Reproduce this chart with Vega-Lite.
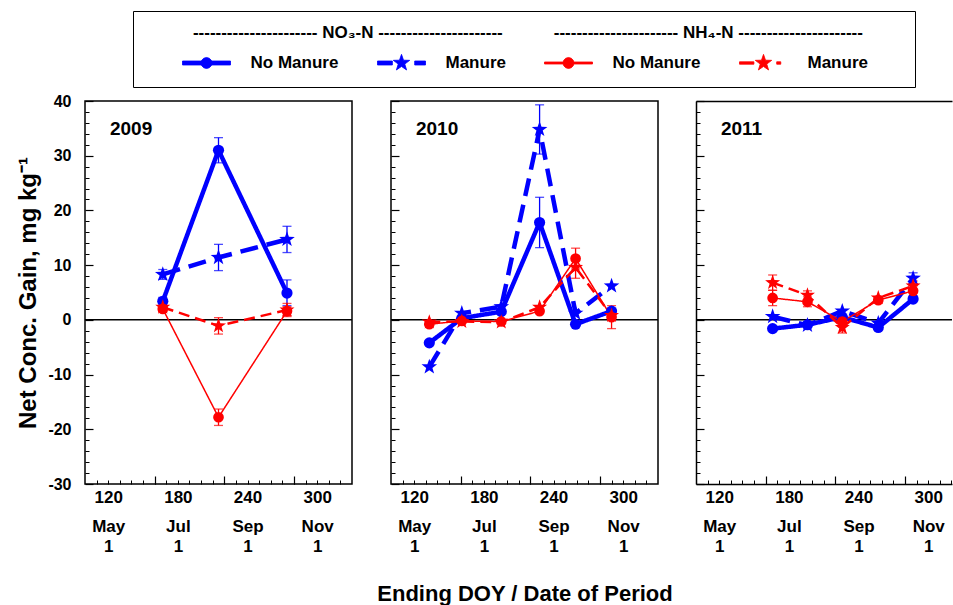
{
  "$schema": "https://vega.github.io/schema/vega-lite/v6.json",
  "background": "white",
  "padding": {"left": 16, "top": 10, "right": 0, "bottom": 0},
  "autosize": {"type": "pad"},
  "spacing": 21,
  "config": {
    "font": "Liberation Sans",
    "view": {"stroke": "black", "strokeWidth": 1.5},
    "axis": {"grid": false, "minExtent": 0, "tickColor": "black", "domainColor": "black", "labelColor": "black", "titleColor": "black", "labelFont": "Liberation Sans", "titleFont": "Liberation Sans"},
    "axisY": {"minExtent": 0},
    "axisX": {"minExtent": 0}
  },
  "datasets": {
    "d": [
      {"year": 2009, "s": "NO3 No Manure", "doy": 167, "v": 3.4, "lo": 2.7, "hi": 4.1},
      {"year": 2009, "s": "NO3 No Manure", "doy": 215, "v": 31.0, "lo": 28.7, "hi": 33.3},
      {"year": 2009, "s": "NO3 No Manure", "doy": 274, "v": 4.9, "lo": 2.6, "hi": 7.3},
      {"year": 2009, "s": "NO3 Manure", "doy": 167, "v": 8.3, "lo": 7.4, "hi": 9.2},
      {"year": 2009, "s": "NO3 Manure", "doy": 215, "v": 11.4, "lo": 9.0, "hi": 13.8},
      {"year": 2009, "s": "NO3 Manure", "doy": 274, "v": 14.7, "lo": 12.3, "hi": 17.1},
      {"year": 2009, "s": "NH4 No Manure", "doy": 167, "v": 2.0, "lo": 1.5, "hi": 2.5},
      {"year": 2009, "s": "NH4 No Manure", "doy": 215, "v": -17.8, "lo": -19.3, "hi": -16.3},
      {"year": 2009, "s": "NH4 No Manure", "doy": 274, "v": 1.6, "lo": 0.8, "hi": 2.4},
      {"year": 2009, "s": "NH4 Manure", "doy": 167, "v": 2.3, "lo": 1.5, "hi": 3.1},
      {"year": 2009, "s": "NH4 Manure", "doy": 215, "v": -1.1, "lo": -2.6, "hi": 0.4},
      {"year": 2009, "s": "NH4 Manure", "doy": 274, "v": 1.8, "lo": 0.6, "hi": 3.0},
      {"year": 2010, "s": "NO3 No Manure", "doy": 133, "v": -4.2},
      {"year": 2010, "s": "NO3 No Manure", "doy": 161, "v": 0.3},
      {"year": 2010, "s": "NO3 No Manure", "doy": 195, "v": 1.5},
      {"year": 2010, "s": "NO3 No Manure", "doy": 228, "v": 17.8, "lo": 13.2, "hi": 22.4},
      {"year": 2010, "s": "NO3 No Manure", "doy": 259, "v": -0.8},
      {"year": 2010, "s": "NO3 No Manure", "doy": 290, "v": 1.6},
      {"year": 2010, "s": "NO3 Manure", "doy": 133, "v": -8.6},
      {"year": 2010, "s": "NO3 Manure", "doy": 161, "v": 1.2},
      {"year": 2010, "s": "NO3 Manure", "doy": 195, "v": 2.4},
      {"year": 2010, "s": "NO3 Manure", "doy": 228, "v": 34.8, "lo": 30.3, "hi": 39.3},
      {"year": 2010, "s": "NO3 Manure", "doy": 259, "v": 1.2},
      {"year": 2010, "s": "NO3 Manure", "doy": 290, "v": 6.2},
      {"year": 2010, "s": "NH4 No Manure", "doy": 133, "v": -0.8},
      {"year": 2010, "s": "NH4 No Manure", "doy": 161, "v": -0.2},
      {"year": 2010, "s": "NH4 No Manure", "doy": 195, "v": -0.3},
      {"year": 2010, "s": "NH4 No Manure", "doy": 228, "v": 1.6},
      {"year": 2010, "s": "NH4 No Manure", "doy": 259, "v": 11.2, "lo": 9.3, "hi": 13.1},
      {"year": 2010, "s": "NH4 No Manure", "doy": 290, "v": 0.5, "lo": -1.6, "hi": 2.6},
      {"year": 2010, "s": "NH4 Manure", "doy": 133, "v": -0.4},
      {"year": 2010, "s": "NH4 Manure", "doy": 161, "v": -0.3},
      {"year": 2010, "s": "NH4 Manure", "doy": 195, "v": -0.4},
      {"year": 2010, "s": "NH4 Manure", "doy": 228, "v": 2.3},
      {"year": 2010, "s": "NH4 Manure", "doy": 259, "v": 9.6, "lo": 7.6, "hi": 11.6},
      {"year": 2010, "s": "NH4 Manure", "doy": 290, "v": 0.8},
      {"year": 2011, "s": "NO3 No Manure", "doy": 166, "v": -1.6},
      {"year": 2011, "s": "NO3 No Manure", "doy": 196, "v": -0.9},
      {"year": 2011, "s": "NO3 No Manure", "doy": 226, "v": 0.5},
      {"year": 2011, "s": "NO3 No Manure", "doy": 257, "v": -1.4},
      {"year": 2011, "s": "NO3 No Manure", "doy": 287, "v": 3.8},
      {"year": 2011, "s": "NO3 Manure", "doy": 166, "v": 0.6},
      {"year": 2011, "s": "NO3 Manure", "doy": 196, "v": -1.0},
      {"year": 2011, "s": "NO3 Manure", "doy": 226, "v": 1.6},
      {"year": 2011, "s": "NO3 Manure", "doy": 257, "v": -0.6},
      {"year": 2011, "s": "NO3 Manure", "doy": 287, "v": 7.6, "lo": 6.6, "hi": 8.6},
      {"year": 2011, "s": "NH4 No Manure", "doy": 166, "v": 4.0, "lo": 2.6, "hi": 5.4},
      {"year": 2011, "s": "NH4 No Manure", "doy": 196, "v": 3.3, "lo": 2.4, "hi": 4.2},
      {"year": 2011, "s": "NH4 No Manure", "doy": 226, "v": -0.3},
      {"year": 2011, "s": "NH4 No Manure", "doy": 257, "v": 3.6},
      {"year": 2011, "s": "NH4 No Manure", "doy": 287, "v": 5.3, "lo": 4.4, "hi": 6.2},
      {"year": 2011, "s": "NH4 Manure", "doy": 166, "v": 6.8, "lo": 5.4, "hi": 8.2},
      {"year": 2011, "s": "NH4 Manure", "doy": 196, "v": 4.5, "lo": 3.7, "hi": 5.3},
      {"year": 2011, "s": "NH4 Manure", "doy": 226, "v": -1.4, "lo": -2.4, "hi": -0.4},
      {"year": 2011, "s": "NH4 Manure", "doy": 257, "v": 4.0},
      {"year": 2011, "s": "NH4 Manure", "doy": 287, "v": 6.2, "lo": 5.3, "hi": 7.1}
    ]
  },
  "hconcat": [
    {
      "width": 267, "height": 383,
      "layer": [
        {
          "data": {"values": [{}]},
          "mark": {"type": "rule", "color": "black", "strokeWidth": 1.5},
          "encoding": {"y": {"datum": 0, "type": "quantitative", "scale": {"domain": [-30, 40], "nice": false, "zero": false}, "axis": {"orient": "left", "values": [-30, -20, -10, 0, 10, 20, 30, 40], "tickSize": -8, "tickWidth": 1.2, "labels": false, "domain": false, "title": null}}}
        },
        {
          "data": {"name": "d"},
          "transform": [{"filter": "datum.year == 2009 && isValid(datum.lo)"}],
          "mark": {"type": "rule", "strokeWidth": 1.3},
          "encoding": {
            "x": {"field": "doy", "type": "quantitative", "scale": {"domain": [100, 330], "nice": false, "zero": false}, "axis": {"orient": "bottom", "values": [110, 120, 130, 140, 150, 160, 170, 180, 190, 200, 210, 220, 230, 240, 250, 260, 270, 280, 290, 300, 310, 320], "tickSize": -4, "tickWidth": 1, "labels": false, "domain": false, "title": null}},
            "y": {"field": "lo", "type": "quantitative", "scale": {"domain": [-30, 40], "nice": false, "zero": false}, "axis": {"orient": "left", "values": [-28, -26, -24, -22, -18, -16, -14, -12, -8, -6, -4, -2, 2, 4, 6, 8, 12, 14, 16, 18, 22, 24, 26, 28, 32, 34, 36, 38], "tickSize": -4, "tickWidth": 1, "labels": false, "domain": false, "title": null}},
            "y2": {"field": "hi"},
            "color": {"field": "s", "type": "nominal", "scale": {"domain": ["NO3 No Manure", "NO3 Manure", "NH4 No Manure", "NH4 Manure"], "range": ["#0000ff", "#0000ff", "#ff0000", "#ff0000"]},
              "legend": {
                "orient": "none", "legendX": 48, "legendY": -90,
                "direction": "horizontal", "columns": 4,
                "title": "\u200B\u2003\u2003\u2002\u2009---------------------- NO\u2083-N ----------------------\u2003\u2003\u2003---------------------- NH\u2084-N ----------------------\u2003\u2003\u2009\u200B",
                "titleFontSize": 17, "titleFontWeight": "bold", "titleLimit": 2000, "titlePadding": 11, "titleAnchor": "start", "titleColor": "black",
                "labelFontSize": 17, "labelFontWeight": "bold", "labelColor": "black", "labelExpr": "slice(datum.label, 4)", "labelLimit": 300, "labelOffset": 19.5,
                "symbolSize": 2304, "symbolStrokeWidth": 0.8, "symbolOffset": 35, "symbolType": "circle",
                "clipHeight": 20,
                "columnPadding": 3,
                "padding": 14, "strokeColor": "black", "fillColor": "white", "cornerRadius": 0,
                "encode": {"symbols": {"update": {
                  "shape": {"signal": "datum.value == 'NO3 Manure' ? 'M-1,-0.083H-0.38V0.083H-1ZM0.55,-0.083H1V0.083H0.55ZM0,-0.36L0.085,-0.117L0.342,-0.111L0.137,0.045L0.212,0.291L0,0.144L-0.212,0.291L-0.137,0.045L-0.342,-0.111L-0.085,-0.117Z' : datum.value == 'NH4 Manure' ? 'M-1,-0.05H-0.4V0.05H-1ZM0.55,-0.05H0.72V0.05H0.55ZM0,-0.36L0.085,-0.117L0.342,-0.111L0.137,0.045L0.212,0.291L0,0.144L-0.212,0.291L-0.137,0.045L-0.342,-0.111L-0.085,-0.117Z' : datum.value == 'NH4 No Manure' ? 'M-1,-0.042H1V0.042H-1ZM0.23,0L0.199,0.115L0.115,0.199L0,0.23L-0.115,0.199L-0.199,0.115L-0.23,0L-0.199,-0.115L-0.115,-0.199L0,-0.23L0.115,-0.199L0.199,-0.115Z' : 'M-1,-0.083H1V0.083H-1ZM0.23,0L0.199,0.115L0.115,0.199L0,0.23L-0.115,0.199L-0.199,0.115L-0.23,0L-0.199,-0.115L-0.115,-0.199L0,-0.23L0.115,-0.199L0.199,-0.115Z'"},
                  "fill": {"signal": "slice(datum.value,0,3) == 'NO3' ? '#0000ff' : '#ff0000'"},
                  "stroke": {"signal": "slice(datum.value,0,3) == 'NO3' ? '#0000ff' : '#ff0000'"},
                  "opacity": {"value": 1}, "fillOpacity": {"value": 1}, "strokeOpacity": {"value": 1}
                }}}
              }
            }
          }
        },
        {
          "data": {"name": "d"},
          "transform": [{"filter": "datum.year == 2009 && isValid(datum.lo)"}],
          "mark": {"type": "tick", "orient": "horizontal", "size": 9, "thickness": 1.3},
          "encoding": {
            "x": {"field": "doy", "type": "quantitative", "scale": {"domain": [100, 330], "nice": false, "zero": false}, "axis": {"orient": "bottom", "values": [160, 220, 280], "tickSize": -8, "tickWidth": 1.2, "labels": false, "domain": false, "title": null}},
            "y": {"field": "lo", "type": "quantitative", "scale": {"domain": [-30, 40], "nice": false, "zero": false}, "axis": {"orient": "left", "values": [-30, -20, -10, 0, 10, 20, 30, 40], "ticks": false, "domain": false, "labelPadding": 14, "labelFontSize": 16, "labelFontWeight": "bold", "labelFlush": false, "labelOverlap": false, "labelExpr": "'' + datum.value", "title": "Net Conc. Gain, mg kg⁻¹", "titleFontSize": 24, "titleFontWeight": "bold", "titlePadding": 7}},
            "color": {"field": "s", "type": "nominal", "scale": {"domain": ["NO3 No Manure", "NO3 Manure", "NH4 No Manure", "NH4 Manure"], "range": ["#0000ff", "#0000ff", "#ff0000", "#ff0000"]}, "legend": null}
          }
        },
        {
          "data": {"name": "d"},
          "transform": [{"filter": "datum.year == 2009 && isValid(datum.lo)"}],
          "mark": {"type": "tick", "orient": "horizontal", "size": 9, "thickness": 1.3},
          "encoding": {
            "x": {"field": "doy", "type": "quantitative", "scale": {"domain": [100, 330], "nice": false, "zero": false}, "axis": {"orient": "bottom", "values": [120, 180, 240, 300], "ticks": false, "domain": false, "labelPadding": 5, "labelFontSize": 17, "labelFontWeight": "bold", "labelFlush": false, "labelOverlap": false, "title": null}},
            "y": {"field": "hi", "type": "quantitative", "scale": {"domain": [-30, 40], "nice": false, "zero": false}, "axis": null},
            "color": {"field": "s", "type": "nominal", "scale": {"domain": ["NO3 No Manure", "NO3 Manure", "NH4 No Manure", "NH4 Manure"], "range": ["#0000ff", "#0000ff", "#ff0000", "#ff0000"]}, "legend": null}
          }
        },
        {
          "data": {"name": "d"},
          "transform": [{"filter": "datum.year == 2009"}],
          "mark": {"type": "line"},
          "encoding": {
            "x": {"field": "doy", "type": "quantitative", "scale": {"domain": [100, 330], "nice": false, "zero": false}, "axis": {"orient": "bottom", "values": [120, 180, 240, 300], "ticks": false, "domain": false, "labelPadding": 34, "labelFontSize": 17, "labelFontWeight": "bold", "labelLineHeight": 20, "labelFlush": false, "labelOverlap": false, "labelExpr": "datum.value == 120 ? ['May','1'] : datum.value == 180 ? ['Jul','1'] : datum.value == 240 ? ['Sep','1'] : ['Nov','1']", "title": null}},
            "y": {"field": "v", "type": "quantitative", "scale": {"domain": [-30, 40], "nice": false, "zero": false}, "axis": null},
            "color": {"field": "s", "type": "nominal", "scale": {"domain": ["NO3 No Manure", "NO3 Manure", "NH4 No Manure", "NH4 Manure"], "range": ["#0000ff", "#0000ff", "#ff0000", "#ff0000"]}, "legend": null},
            "strokeDash": {"field": "s", "type": "nominal", "scale": {"domain": ["NH4 Manure", "NH4 No Manure", "NO3 Manure", "NO3 No Manure"], "range": [[11, 6], [1, 0], [18, 9], [1, 0]]}, "legend": null},
            "strokeWidth": {"field": "s", "type": "nominal", "scale": {"type": "ordinal", "domain": ["NH4 Manure", "NH4 No Manure", "NO3 Manure", "NO3 No Manure"], "range": [2.5, 1.5, 4.5, 4.5]}, "legend": null}
          }
        },
        {
          "data": {"name": "d"},
          "transform": [{"filter": "datum.year == 2009"}],
          "mark": {"type": "point", "filled": true, "opacity": 1},
          "encoding": {
            "x": {"field": "doy", "type": "quantitative", "scale": {"domain": [100, 330], "nice": false, "zero": false}, "axis": null},
            "y": {"field": "v", "type": "quantitative", "scale": {"domain": [-30, 40], "nice": false, "zero": false}, "axis": null},
            "color": {"field": "s", "type": "nominal", "scale": {"domain": ["NO3 No Manure", "NO3 Manure", "NH4 No Manure", "NH4 Manure"], "range": ["#0000ff", "#0000ff", "#ff0000", "#ff0000"]}, "legend": null},
            "shape": {"field": "s", "type": "nominal", "scale": {"domain": ["NH4 Manure", "NH4 No Manure", "NO3 Manure", "NO3 No Manure"], "range": ["M0,-1L0.235,-0.324L0.951,-0.309L0.38,0.124L0.588,0.809L0,0.4L-0.588,0.809L-0.38,0.124L-0.951,-0.309L-0.235,-0.324Z", "circle", "M0,-1L0.235,-0.324L0.951,-0.309L0.38,0.124L0.588,0.809L0,0.4L-0.588,0.809L-0.38,0.124L-0.951,-0.309L-0.235,-0.324Z", "circle"]}, "legend": null},
            "size": {"field": "s", "type": "nominal", "scale": {"type": "ordinal", "domain": ["NH4 Manure", "NH4 No Manure", "NO3 Manure", "NO3 No Manure"], "range": [250, 115, 270, 125]}, "legend": null}
          }
        },
        {
          "data": {"values": [{"t": "2009"}]},
          "mark": {"type": "text", "align": "left", "baseline": "middle", "fontSize": 19, "fontWeight": "bold", "color": "black"},
          "encoding": {
            "text": {"field": "t"},
            "x": {"datum": 121.5, "type": "quantitative", "scale": {"domain": [100, 330], "nice": false, "zero": false}, "axis": null},
            "y": {"datum": 34.9, "type": "quantitative", "scale": {"domain": [-30, 40], "nice": false, "zero": false}, "axis": null}
          }
        }
      ],
      "resolve": {"axis": {"x": "independent", "y": "independent"}}
    },
    {
      "width": 267, "height": 383,
      "layer": [
        {
          "data": {"values": [{}]},
          "mark": {"type": "rule", "color": "black", "strokeWidth": 1.5},
          "encoding": {"y": {"datum": 0, "type": "quantitative", "scale": {"domain": [-30, 40], "nice": false, "zero": false}, "axis": {"orient": "left", "values": [-30, -20, -10, 0, 10, 20, 30, 40], "tickSize": -8, "tickWidth": 1.2, "labels": false, "domain": false, "title": null}}}
        },
        {
          "data": {"name": "d"},
          "transform": [{"filter": "datum.year == 2010 && isValid(datum.lo)"}],
          "mark": {"type": "rule", "strokeWidth": 1.3},
          "encoding": {
            "x": {"field": "doy", "type": "quantitative", "scale": {"domain": [100, 330], "nice": false, "zero": false}, "axis": {"orient": "bottom", "values": [110, 120, 130, 140, 150, 160, 170, 180, 190, 200, 210, 220, 230, 240, 250, 260, 270, 280, 290, 300, 310, 320], "tickSize": -4, "tickWidth": 1, "labels": false, "domain": false, "title": null}},
            "y": {"field": "lo", "type": "quantitative", "scale": {"domain": [-30, 40], "nice": false, "zero": false}, "axis": {"orient": "left", "values": [-28, -26, -24, -22, -18, -16, -14, -12, -8, -6, -4, -2, 2, 4, 6, 8, 12, 14, 16, 18, 22, 24, 26, 28, 32, 34, 36, 38], "tickSize": -4, "tickWidth": 1, "labels": false, "domain": false, "title": null}},
            "y2": {"field": "hi"},
            "color": {"field": "s", "type": "nominal", "scale": {"domain": ["NO3 No Manure", "NO3 Manure", "NH4 No Manure", "NH4 Manure"], "range": ["#0000ff", "#0000ff", "#ff0000", "#ff0000"]}, "legend": null}
          }
        },
        {
          "data": {"name": "d"},
          "transform": [{"filter": "datum.year == 2010 && isValid(datum.lo)"}],
          "mark": {"type": "tick", "orient": "horizontal", "size": 9, "thickness": 1.3},
          "encoding": {
            "x": {"field": "doy", "type": "quantitative", "scale": {"domain": [100, 330], "nice": false, "zero": false}, "axis": {"orient": "bottom", "values": [160, 220, 280], "tickSize": -8, "tickWidth": 1.2, "labels": false, "domain": false, "title": null}},
            "y": {"field": "lo", "type": "quantitative", "scale": {"domain": [-30, 40], "nice": false, "zero": false}, "axis": null},
            "color": {"field": "s", "type": "nominal", "scale": {"domain": ["NO3 No Manure", "NO3 Manure", "NH4 No Manure", "NH4 Manure"], "range": ["#0000ff", "#0000ff", "#ff0000", "#ff0000"]}, "legend": null}
          }
        },
        {
          "data": {"name": "d"},
          "transform": [{"filter": "datum.year == 2010 && isValid(datum.lo)"}],
          "mark": {"type": "tick", "orient": "horizontal", "size": 9, "thickness": 1.3},
          "encoding": {
            "x": {"field": "doy", "type": "quantitative", "scale": {"domain": [100, 330], "nice": false, "zero": false}, "axis": {"orient": "bottom", "values": [120, 180, 240, 300], "ticks": false, "domain": false, "labelPadding": 5, "labelFontSize": 17, "labelFontWeight": "bold", "labelFlush": false, "labelOverlap": false, "title": null}},
            "y": {"field": "hi", "type": "quantitative", "scale": {"domain": [-30, 40], "nice": false, "zero": false}, "axis": null},
            "color": {"field": "s", "type": "nominal", "scale": {"domain": ["NO3 No Manure", "NO3 Manure", "NH4 No Manure", "NH4 Manure"], "range": ["#0000ff", "#0000ff", "#ff0000", "#ff0000"]}, "legend": null}
          }
        },
        {
          "data": {"name": "d"},
          "transform": [{"filter": "datum.year == 2010"}],
          "mark": {"type": "line"},
          "encoding": {
            "x": {"field": "doy", "type": "quantitative", "scale": {"domain": [100, 330], "nice": false, "zero": false}, "axis": {"orient": "bottom", "values": [120, 180, 240, 300], "ticks": false, "domain": false, "labelPadding": 34, "labelFontSize": 17, "labelFontWeight": "bold", "labelLineHeight": 20, "labelFlush": false, "labelOverlap": false, "labelExpr": "datum.value == 120 ? ['May','1'] : datum.value == 180 ? ['Jul','1'] : datum.value == 240 ? ['Sep','1'] : ['Nov','1']", "title": "Ending DOY / Date of Period", "titleFontSize": 22, "titleFontWeight": "bold", "titlePadding": 29}},
            "y": {"field": "v", "type": "quantitative", "scale": {"domain": [-30, 40], "nice": false, "zero": false}, "axis": null},
            "color": {"field": "s", "type": "nominal", "scale": {"domain": ["NO3 No Manure", "NO3 Manure", "NH4 No Manure", "NH4 Manure"], "range": ["#0000ff", "#0000ff", "#ff0000", "#ff0000"]}, "legend": null},
            "strokeDash": {"field": "s", "type": "nominal", "scale": {"domain": ["NH4 Manure", "NH4 No Manure", "NO3 Manure", "NO3 No Manure"], "range": [[11, 6], [1, 0], [18, 9], [1, 0]]}, "legend": null},
            "strokeWidth": {"field": "s", "type": "nominal", "scale": {"type": "ordinal", "domain": ["NH4 Manure", "NH4 No Manure", "NO3 Manure", "NO3 No Manure"], "range": [2.5, 1.5, 4.5, 4.5]}, "legend": null}
          }
        },
        {
          "data": {"name": "d"},
          "transform": [{"filter": "datum.year == 2010"}],
          "mark": {"type": "point", "filled": true, "opacity": 1},
          "encoding": {
            "x": {"field": "doy", "type": "quantitative", "scale": {"domain": [100, 330], "nice": false, "zero": false}, "axis": null},
            "y": {"field": "v", "type": "quantitative", "scale": {"domain": [-30, 40], "nice": false, "zero": false}, "axis": null},
            "color": {"field": "s", "type": "nominal", "scale": {"domain": ["NO3 No Manure", "NO3 Manure", "NH4 No Manure", "NH4 Manure"], "range": ["#0000ff", "#0000ff", "#ff0000", "#ff0000"]}, "legend": null},
            "shape": {"field": "s", "type": "nominal", "scale": {"domain": ["NH4 Manure", "NH4 No Manure", "NO3 Manure", "NO3 No Manure"], "range": ["M0,-1L0.235,-0.324L0.951,-0.309L0.38,0.124L0.588,0.809L0,0.4L-0.588,0.809L-0.38,0.124L-0.951,-0.309L-0.235,-0.324Z", "circle", "M0,-1L0.235,-0.324L0.951,-0.309L0.38,0.124L0.588,0.809L0,0.4L-0.588,0.809L-0.38,0.124L-0.951,-0.309L-0.235,-0.324Z", "circle"]}, "legend": null},
            "size": {"field": "s", "type": "nominal", "scale": {"type": "ordinal", "domain": ["NH4 Manure", "NH4 No Manure", "NO3 Manure", "NO3 No Manure"], "range": [250, 115, 270, 125]}, "legend": null}
          }
        },
        {
          "data": {"values": [{"t": "2010"}]},
          "mark": {"type": "text", "align": "left", "baseline": "middle", "fontSize": 19, "fontWeight": "bold", "color": "black"},
          "encoding": {
            "text": {"field": "t"},
            "x": {"datum": 121.5, "type": "quantitative", "scale": {"domain": [100, 330], "nice": false, "zero": false}, "axis": null},
            "y": {"datum": 34.9, "type": "quantitative", "scale": {"domain": [-30, 40], "nice": false, "zero": false}, "axis": null}
          }
        }
      ],
      "resolve": {"axis": {"x": "independent", "y": "independent"}}
    },
    {
      "width": 256, "height": 383,
      "view": {"stroke": null},
      "layer": [
        {
          "data": {"values": [{}]},
          "mark": {"type": "rule", "color": "black", "strokeWidth": 1.5},
          "encoding": {"y": {"datum": 0, "type": "quantitative", "scale": {"domain": [-30, 40], "nice": false, "zero": false}, "axis": {"orient": "left", "values": [-30, -20, -10, 0, 10, 20, 30, 40], "tickSize": -8, "tickWidth": 1.2, "labels": false, "domain": true, "domainWidth": 1.5, "title": null}}}
        },
        {
          "data": {"name": "d"},
          "transform": [{"filter": "datum.year == 2011 && isValid(datum.lo)"}],
          "mark": {"type": "rule", "strokeWidth": 1.3},
          "encoding": {
            "x": {"field": "doy", "type": "quantitative", "scale": {"domain": [100, 320.5], "nice": false, "zero": false}, "axis": {"orient": "bottom", "values": [110, 120, 130, 140, 150, 160, 170, 180, 190, 200, 210, 220, 230, 240, 250, 260, 270, 280, 290, 300, 310, 320], "tickSize": -4, "tickWidth": 1, "labels": false, "domain": true, "domainWidth": 1.5, "title": null}},
            "y": {"field": "lo", "type": "quantitative", "scale": {"domain": [-30, 40], "nice": false, "zero": false}, "axis": {"orient": "left", "values": [-28, -26, -24, -22, -18, -16, -14, -12, -8, -6, -4, -2, 2, 4, 6, 8, 12, 14, 16, 18, 22, 24, 26, 28, 32, 34, 36, 38], "tickSize": -4, "tickWidth": 1, "labels": false, "domain": false, "title": null}},
            "y2": {"field": "hi"},
            "color": {"field": "s", "type": "nominal", "scale": {"domain": ["NO3 No Manure", "NO3 Manure", "NH4 No Manure", "NH4 Manure"], "range": ["#0000ff", "#0000ff", "#ff0000", "#ff0000"]}, "legend": null}
          }
        },
        {
          "data": {"name": "d"},
          "transform": [{"filter": "datum.year == 2011 && isValid(datum.lo)"}],
          "mark": {"type": "tick", "orient": "horizontal", "size": 9, "thickness": 1.3},
          "encoding": {
            "x": {"field": "doy", "type": "quantitative", "scale": {"domain": [100, 320.5], "nice": false, "zero": false}, "axis": {"orient": "bottom", "values": [160, 220, 280], "tickSize": -8, "tickWidth": 1.2, "labels": false, "domain": false, "title": null}},
            "y": {"field": "lo", "type": "quantitative", "scale": {"domain": [-30, 40], "nice": false, "zero": false}, "axis": null},
            "color": {"field": "s", "type": "nominal", "scale": {"domain": ["NO3 No Manure", "NO3 Manure", "NH4 No Manure", "NH4 Manure"], "range": ["#0000ff", "#0000ff", "#ff0000", "#ff0000"]}, "legend": null}
          }
        },
        {
          "data": {"name": "d"},
          "transform": [{"filter": "datum.year == 2011 && isValid(datum.lo)"}],
          "mark": {"type": "tick", "orient": "horizontal", "size": 9, "thickness": 1.3},
          "encoding": {
            "x": {"field": "doy", "type": "quantitative", "scale": {"domain": [100, 320.5], "nice": false, "zero": false}, "axis": {"orient": "bottom", "values": [120, 180, 240, 300], "ticks": false, "domain": false, "labelPadding": 5, "labelFontSize": 17, "labelFontWeight": "bold", "labelFlush": false, "labelOverlap": false, "title": null}},
            "y": {"field": "hi", "type": "quantitative", "scale": {"domain": [-30, 40], "nice": false, "zero": false}, "axis": null},
            "color": {"field": "s", "type": "nominal", "scale": {"domain": ["NO3 No Manure", "NO3 Manure", "NH4 No Manure", "NH4 Manure"], "range": ["#0000ff", "#0000ff", "#ff0000", "#ff0000"]}, "legend": null}
          }
        },
        {
          "data": {"name": "d"},
          "transform": [{"filter": "datum.year == 2011"}],
          "mark": {"type": "line"},
          "encoding": {
            "x": {"field": "doy", "type": "quantitative", "scale": {"domain": [100, 320.5], "nice": false, "zero": false}, "axis": {"orient": "bottom", "values": [120, 180, 240, 300], "ticks": false, "domain": false, "labelPadding": 34, "labelFontSize": 17, "labelFontWeight": "bold", "labelLineHeight": 20, "labelFlush": false, "labelOverlap": false, "labelExpr": "datum.value == 120 ? ['May','1'] : datum.value == 180 ? ['Jul','1'] : datum.value == 240 ? ['Sep','1'] : ['Nov','1']", "title": null}},
            "y": {"field": "v", "type": "quantitative", "scale": {"domain": [-30, 40], "nice": false, "zero": false}, "axis": null},
            "color": {"field": "s", "type": "nominal", "scale": {"domain": ["NO3 No Manure", "NO3 Manure", "NH4 No Manure", "NH4 Manure"], "range": ["#0000ff", "#0000ff", "#ff0000", "#ff0000"]}, "legend": null},
            "strokeDash": {"field": "s", "type": "nominal", "scale": {"domain": ["NH4 Manure", "NH4 No Manure", "NO3 Manure", "NO3 No Manure"], "range": [[11, 6], [1, 0], [18, 9], [1, 0]]}, "legend": null},
            "strokeWidth": {"field": "s", "type": "nominal", "scale": {"type": "ordinal", "domain": ["NH4 Manure", "NH4 No Manure", "NO3 Manure", "NO3 No Manure"], "range": [2.5, 1.5, 4.5, 4.5]}, "legend": null}
          }
        },
        {
          "data": {"name": "d"},
          "transform": [{"filter": "datum.year == 2011"}],
          "mark": {"type": "point", "filled": true, "opacity": 1},
          "encoding": {
            "x": {"field": "doy", "type": "quantitative", "scale": {"domain": [100, 320.5], "nice": false, "zero": false}, "axis": {"orient": "top", "ticks": false, "labels": false, "domain": true, "domainWidth": 1.5, "title": null}},
            "y": {"field": "v", "type": "quantitative", "scale": {"domain": [-30, 40], "nice": false, "zero": false}, "axis": null},
            "color": {"field": "s", "type": "nominal", "scale": {"domain": ["NO3 No Manure", "NO3 Manure", "NH4 No Manure", "NH4 Manure"], "range": ["#0000ff", "#0000ff", "#ff0000", "#ff0000"]}, "legend": null},
            "shape": {"field": "s", "type": "nominal", "scale": {"domain": ["NH4 Manure", "NH4 No Manure", "NO3 Manure", "NO3 No Manure"], "range": ["M0,-1L0.235,-0.324L0.951,-0.309L0.38,0.124L0.588,0.809L0,0.4L-0.588,0.809L-0.38,0.124L-0.951,-0.309L-0.235,-0.324Z", "circle", "M0,-1L0.235,-0.324L0.951,-0.309L0.38,0.124L0.588,0.809L0,0.4L-0.588,0.809L-0.38,0.124L-0.951,-0.309L-0.235,-0.324Z", "circle"]}, "legend": null},
            "size": {"field": "s", "type": "nominal", "scale": {"type": "ordinal", "domain": ["NH4 Manure", "NH4 No Manure", "NO3 Manure", "NO3 No Manure"], "range": [250, 115, 270, 125]}, "legend": null}
          }
        },
        {
          "data": {"values": [{"t": "2011"}]},
          "mark": {"type": "text", "align": "left", "baseline": "middle", "fontSize": 19, "fontWeight": "bold", "color": "black"},
          "encoding": {
            "text": {"field": "t"},
            "x": {"datum": 121.5, "type": "quantitative", "scale": {"domain": [100, 320.5], "nice": false, "zero": false}, "axis": null},
            "y": {"datum": 34.9, "type": "quantitative", "scale": {"domain": [-30, 40], "nice": false, "zero": false}, "axis": null}
          }
        }
      ],
      "resolve": {"axis": {"x": "independent", "y": "independent"}}
    }
  ]
}
